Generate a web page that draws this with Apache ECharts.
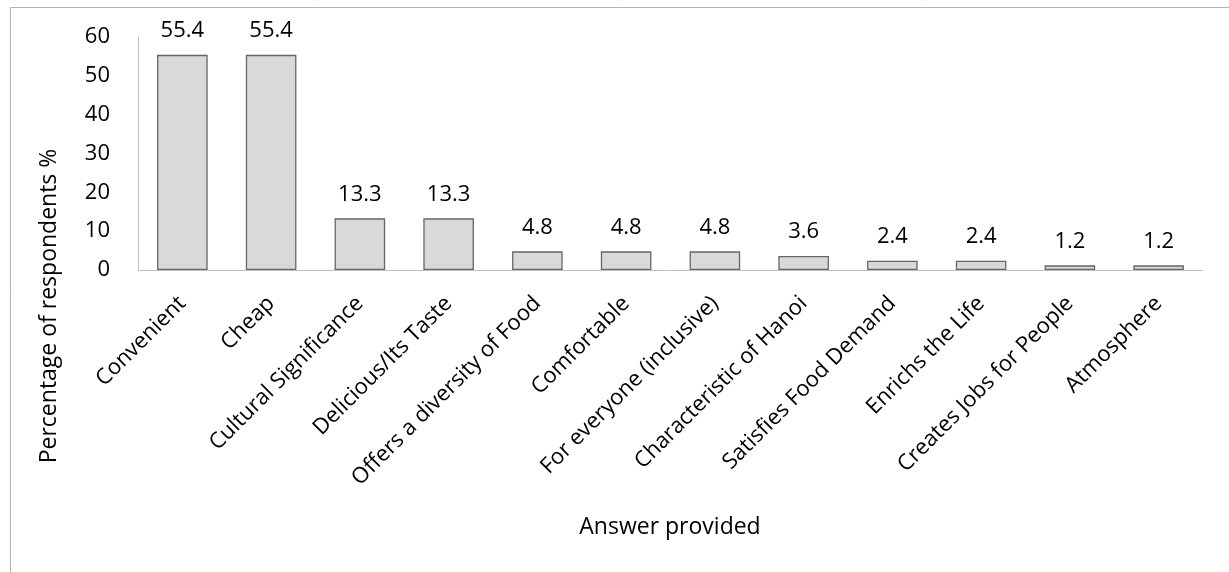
<!DOCTYPE html>
<html>
<head>
<meta charset="utf-8">
<script src="https://cdn.jsdelivr.net/npm/echarts@6/dist/echarts.min.js"></script>
<style>
  html, body { margin: 0; padding: 0; background: #ffffff; }
  #chart { width: 1229px; height: 572px; }
</style>
</head>
<body>
<div id="chart"></div>
<script>
// Reasons given by respondents (percentage of respondents)
var categories = [
  'Convenient', 'Cheap', 'Cultural Significance', 'Delicious/Its Taste',
  'Offers a diversity of Food', 'Comfortable', 'For everyone (inclusive)',
  'Characteristic of Hanoi', 'Satisfies Food Demand', 'Enrichs the Life',
  'Creates Jobs for People', 'Atmosphere'
];
var percentages = [55.4, 55.4, 13.3, 13.3, 4.8, 4.8, 4.8, 3.6, 2.4, 2.4, 1.2, 1.2];
var yTicks = { min: 0, max: 60, interval: 10 };

var FONT = '"Open Sans", "Noto Sans", sans-serif';
var chart = echarts.init(document.getElementById('chart'));

chart.setOption({
  animation: false,
  backgroundColor: '#ffffff',
  textStyle: { fontFamily: FONT },
  grid: { left: 138, right: 26, top: 37, bottom: 302, containLabel: false },
  graphic: [
    {
      type: 'rect',
      shape: { x: 10.5, y: 7.5, width: 1240, height: 600 },
      style: { fill: 'none', stroke: '#b3b3b3', lineWidth: 1 },
      silent: true
    },
    {
      type: 'text',
      x: 49, y: 306,
      rotation: Math.PI / 2,
      style: {
        text: 'Percentage of respondents %',
        font: '23px ' + FONT,
        fill: '#000000',
        align: 'center',
        verticalAlign: 'middle'
      }
    },
    {
      type: 'text',
      x: 670, y: 527,
      style: {
        text: 'Answer provided',
        font: '23px ' + FONT,
        fill: '#000000',
        align: 'center',
        verticalAlign: 'middle'
      }
    }
  ],
  xAxis: {
    type: 'category',
    data: categories,
    axisLine: { show: true, lineStyle: { color: '#bfbfbf', width: 1 } },
    axisTick: { show: false },
    axisLabel: {
      rotate: 45,
      interval: 0,
      margin: 30,
      color: '#000000',
      fontSize: 22,
      fontFamily: FONT
    }
  },
  yAxis: {
    type: 'value',
    min: yTicks.min,
    max: yTicks.max,
    interval: yTicks.interval,
    axisLine: { show: true, lineStyle: { color: '#bfbfbf', width: 1 } },
    axisTick: { show: false },
    splitLine: { show: false },
    axisLabel: {
      margin: 28,
      color: '#000000',
      fontSize: 22,
      fontFamily: FONT
    }
  },
  series: [{
    type: 'bar',
    data: percentages,
    barWidth: '57%',
    itemStyle: { color: '#d9d9d9', borderColor: '#666666', borderWidth: 1.3 },
    label: {
      show: true,
      position: 'top',
      distance: 13,
      color: '#000000',
      fontSize: 22,
      fontFamily: FONT,
      formatter: function (p) { return p.value.toFixed(1); }
    }
  }]
});
</script>
</body>
</html>
